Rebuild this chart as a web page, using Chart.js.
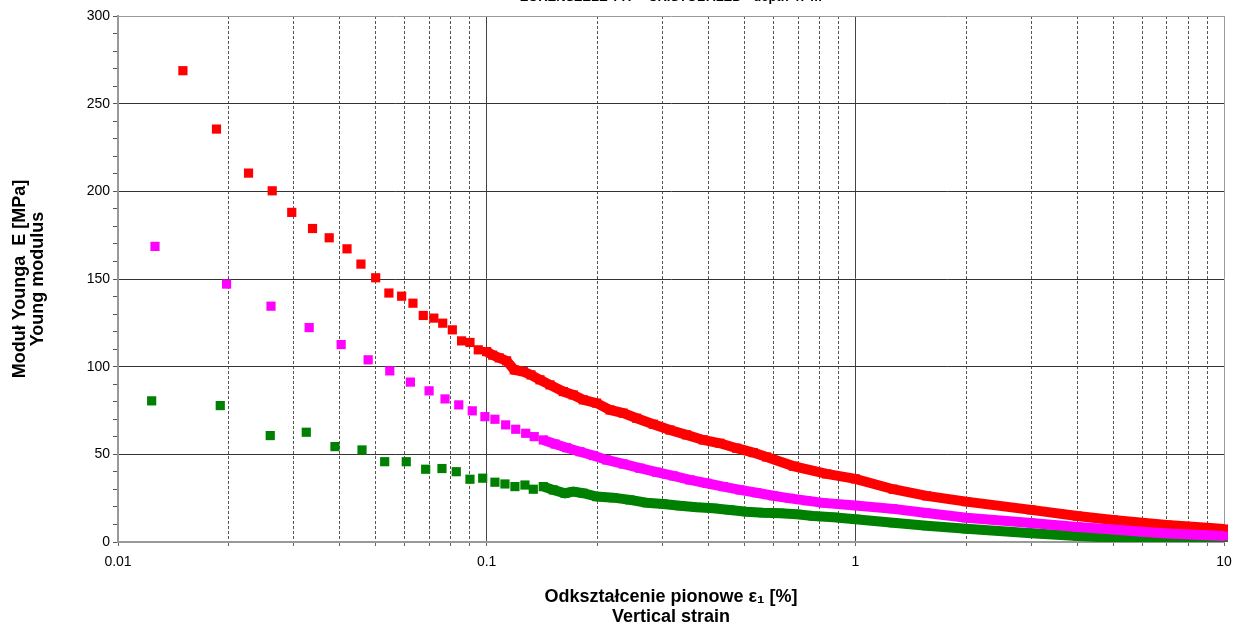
<!DOCTYPE html>
<html><head><meta charset="utf-8">
<script src="https://cdn.jsdelivr.net/npm/chart.js@4.4.1/dist/chart.umd.min.js"></script>
<style>
html,body{margin:0;padding:0;background:#fff;}
#wrap{position:relative;width:1246px;height:630px;overflow:hidden;}
#box{position:absolute;left:0;top:-14px;width:1246px;height:644px;}
</style></head><body>
<div id="wrap"><div id="box"><canvas id="c"></canvas></div></div>
<script>
// ---- texts ----
const chartTitle = 'ZORENSZELE TYP - CRISTOBALED - depth 47 m';
const yTitle = ['Moduł Younga  E [MPa]', 'Young modulus'];
const xTitle = ['Odkształcenie pionowe ε₁ [%]', 'Vertical strain'];

// ---- axis ticks ----
const xDecades = [0.01, 0.1, 1, 10];
const xDecadeLabels = ['0.01', '0.1', '1', '10'];
const xMinorMultipliers = [2, 3, 4, 5, 6, 7, 8, 9];
const yMin = 0, yMax = 300, yMinorStep = 10, yLabelStep = 50;

// ---- series: red ----
const redX = [0.0150, 0.0185, 0.0226, 0.0262, 0.0296, 0.0337, 0.0374, 0.0418, 0.0456, 0.0500,
  0.0543, 0.0588, 0.0631, 0.0673, 0.0719, 0.0760, 0.0807, 0.0855, 0.0901, 0.0949,
  0.1000, 0.1038, 0.1082, 0.1133, 0.1188, 0.1257, 0.1319, 0.1395, 0.1485, 0.1614,
  0.1717, 0.1828, 0.1988, 0.216, 0.2347, 0.2552, 0.2831, 0.3141, 0.3486, 0.3868,
  0.4294, 0.4764, 0.5286, 0.5746, 0.6785, 0.836, 1.0, 1.267, 1.561, 2.0,
  3.0, 4.0, 5.0, 6.0, 7.0, 9.0, 10.0];
const redY = [268.8, 235.5, 210.4, 200.3, 188.0, 178.8, 173.5, 167.2, 158.5, 150.7,
  142.0, 140.2, 136.2, 129.2, 127.7, 124.8, 121.0, 114.7, 113.8, 109.6,
  108.6, 106.6, 105.0, 103.3, 98.2, 97.2, 95.3, 92.5, 89.6, 85.8,
  83.9, 81.1, 79.2, 75.3, 73.5, 70.6, 67.2, 63.9, 61.1, 58.2,
  56.3, 53.5, 51.0, 48.5, 43.3, 38.8, 36.0, 30.1, 26.3, 23.0,
  18.3, 14.8, 12.6, 11.0, 9.7, 8.2, 7.4];

// ---- series: magenta ----
const magX = [0.0126, 0.0197, 0.0260, 0.0330, 0.0403, 0.0477, 0.0546, 0.0621, 0.0698, 0.0771,
  0.0840, 0.0914, 0.0989, 0.1053, 0.1126, 0.1199, 0.1276, 0.1346, 0.1424, 0.1532,
  0.1648, 0.1791, 0.1946, 0.2116, 0.2347, 0.2605, 0.2891, 0.3208, 0.3559, 0.3952,
  0.4383, 0.4864, 0.5400, 0.5989, 0.6646, 0.7378, 0.8185, 1.0, 1.267, 1.561,
  2.0, 3.0, 4.0, 5.0, 6.0, 7.0, 9.0, 10.0];
const magY = [168.6, 147.1, 134.5, 122.3, 112.6, 103.9, 97.6, 91.2, 86.2, 81.6,
  78.2, 74.8, 71.5, 70.0, 66.8, 64.3, 62.0, 60.1, 58.2, 55.9,
  53.8, 51.5, 49.3, 46.8, 44.5, 42.1, 39.8, 37.7, 35.4, 33.5,
  31.6, 29.7, 28.1, 26.4, 24.9, 23.6, 22.3, 20.8, 18.9, 16.5,
  13.8, 10.8, 8.6, 7.1, 5.8, 4.9, 3.8, 3.4];

// ---- series: green ----
const grnX = [0.01234, 0.01894, 0.02588, 0.03241, 0.03877, 0.04591, 0.05289, 0.06052, 0.06832, 0.07564,
  0.08271, 0.09009, 0.09755, 0.1053, 0.1121, 0.1193, 0.1270, 0.1338, 0.1424, 0.1516,
  0.1631, 0.1717, 0.1828, 0.1988, 0.2205, 0.2447, 0.2716, 0.3013, 0.3344, 0.3712,
  0.4118, 0.4570, 0.5072, 0.5626, 0.6244, 0.6930, 0.7688, 0.8712, 1.0, 1.267,
  1.561, 2.0, 3.0, 4.0, 5.0, 6.0, 7.0, 9.0, 10.0];
const grnY = [80.5, 77.8, 60.7, 62.6, 54.4, 52.5, 45.8, 45.8, 41.5, 41.9,
  40.1, 35.8, 36.4, 34.1, 33.1, 31.6, 32.5, 30.1, 31.6, 29.7,
  27.8, 28.7, 27.8, 25.9, 25.3, 24.0, 22.4, 21.7, 20.7, 19.8,
  19.2, 18.3, 17.3, 16.7, 16.4, 15.8, 14.8, 14.1, 13.0, 11.0,
  9.3, 7.5, 5.0, 3.4, 2.5, 1.9, 1.5, 0.9, 0.6];

// ---- styles ----
const RED = '#FF0000', MAG = '#FF00FF', GRN = '#008000';
const bandStart = { red: 0.1, mag: 0.14, grn: 0.14 };

const toPts = (xs, ys) => xs.map((x, i) => ({ x: x, y: ys[i] }));
const isDecade = v => xDecades.some(d => Math.abs(d - v) / d < 1e-9);

const xTickValues = [];
for (let i = 0; i < xDecades.length; i++) {
  xTickValues.push(xDecades[i]);
  if (i < xDecades.length - 1) xMinorMultipliers.forEach(m => xTickValues.push(xDecades[i] * m));
}

function series(label, xs, ys, color, start) {
  return {
    label: label,
    data: toPts(xs, ys),
    showLine: true,
    borderColor: color,
    borderWidth: 10,
    borderCapStyle: 'butt',
    tension: 0,
    segment: { borderColor: ctx => ctx.p0.parsed.x >= start ? color : 'rgba(0,0,0,0)' },
    pointStyle: 'rect',
    pointRadius: 6.5,
    pointBorderWidth: 0,
    pointBackgroundColor: color,
    clip: { left: 6, top: 6, right: 4, bottom: 0 }
  };
}

new Chart(document.getElementById('c'), {
  type: 'scatter',
  data: {
    datasets: [
      series('magenta', magX, magY, MAG, bandStart.mag),
      series('green', grnX, grnY, GRN, bandStart.grn),
      series('red', redX, redY, RED, bandStart.red)
    ]
  },
  options: {
    responsive: true,
    maintainAspectRatio: false,
    animation: false,
    events: [],
    layout: { padding: { top: 0, right: 22, bottom: 0, left: 0 } },
    plugins: {
      legend: { display: false },
      tooltip: { enabled: false },
      title: {
        display: true, text: chartTitle, fullSize: false,
        color: '#000',
        font: { family: 'Liberation Sans, Arial, sans-serif', size: 13, weight: 'bold', lineHeight: '16px' },
        padding: { top: 3, bottom: 11 }
      }
    },
    scales: {
      x: {
        type: 'logarithmic',
        min: xDecades[0], max: xDecades[xDecades.length - 1],
        afterBuildTicks: s => { s.ticks = xTickValues.map(v => ({ value: v, major: isDecade(v) })); },
        afterFit: s => { s.height = 88; },
        ticks: {
          autoSkip: false, maxRotation: 0, padding: 8, color: '#000',
          font: { family: 'Liberation Sans, Arial, sans-serif', size: 14 },
          callback: v => { const i = xDecades.findIndex(d => Math.abs(d - v) / d < 1e-9); return i >= 0 ? xDecadeLabels[i] : ''; }
        },
        grid: {
          color: ctx => { const v = ctx.tick ? ctx.tick.value : 0; if (Math.abs(v - 10) < 1e-9) return '#999'; return isDecade(v) ? '#444' : '#555'; },
          lineWidth: 1, tickLength: 4, tickColor: '#666'
        },
        border: {
          display: true, color: '#999', width: 2,
          dash: ctx => (ctx.tick && !isDecade(ctx.tick.value)) ? [3, 2] : []
        },
        title: {
          display: true, text: xTitle, color: '#000',
          font: { family: 'Liberation Sans, Arial, sans-serif', size: 18, weight: 'bold', lineHeight: '20px' },
          padding: { top: 0, bottom: 3 }
        }
      },
      y: {
        type: 'linear', min: yMin, max: yMax,
        afterFit: s => { s.width = 118; },
        ticks: {
          stepSize: yMinorStep, autoSkip: false, padding: 3, color: '#000',
          font: { family: 'Liberation Sans, Arial, sans-serif', size: 14 },
          callback: v => (v % yLabelStep === 0 ? String(v) : '')
        },
        grid: {
          color: ctx => { const v = ctx.tick ? ctx.tick.value : 0; if (v === yMax) return '#999'; return v % yLabelStep === 0 ? '#333' : 'rgba(0,0,0,0)'; },
          lineWidth: 1, tickLength: 5, tickColor: '#555'
        },
        border: { display: true, color: '#999', width: 2 },
        title: {
          display: true, text: yTitle, color: '#000',
          font: { family: 'Liberation Sans, Arial, sans-serif', size: 18, weight: 'bold', lineHeight: '18px' },
          padding: { top: 11, bottom: 0 }
        }
      }
    }
  }
});
</script>
</body></html>
